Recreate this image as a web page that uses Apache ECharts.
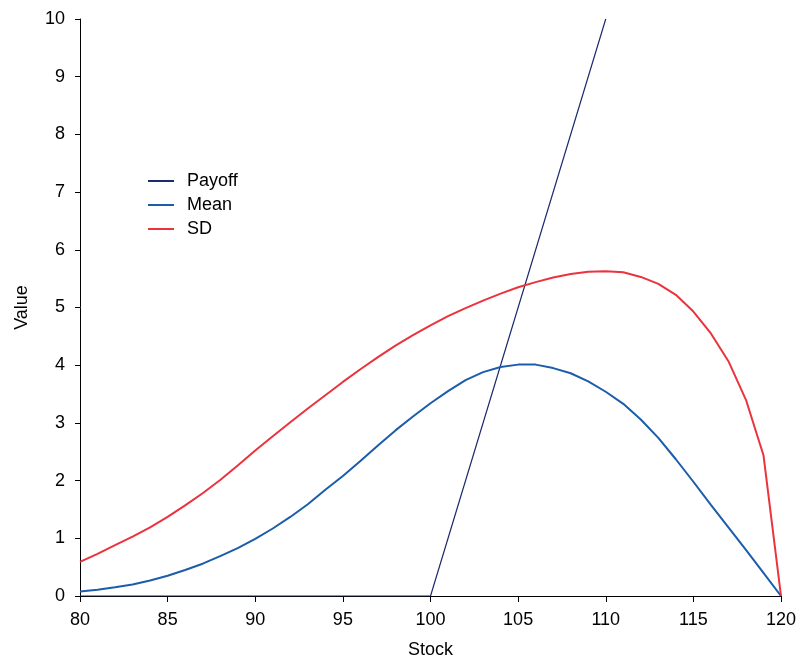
<!DOCTYPE html>
<html>
<head>
<meta charset="utf-8">
<script src="https://cdn.jsdelivr.net/npm/echarts@6/dist/echarts.min.js"></script>
<style>
  html, body { margin: 0; padding: 0; background: #fff; }
  #chart { width: 800px; height: 661px; }
</style>
</head>
<body>
<div id="chart"></div>
<script>
// 数据
var stock = [80, 81, 82, 83, 84, 85, 86, 87, 88, 89, 90, 91, 92, 93, 94, 95, 96, 97, 98, 99, 100,
             101, 102, 103, 104, 105, 106, 107, 108, 109, 110, 111, 112, 113, 114, 115, 116, 117, 118, 119, 120];
var meanValues = [0.08, 0.11, 0.15, 0.20, 0.27, 0.35, 0.45, 0.56, 0.69, 0.83, 0.99, 1.17, 1.37, 1.59, 1.84, 2.08, 2.34, 2.61, 2.87, 3.11, 3.34,
                  3.55, 3.74, 3.88, 3.97, 4.01, 4.01, 3.95, 3.86, 3.72, 3.54, 3.33, 3.06, 2.74, 2.37, 1.98, 1.58, 1.19, 0.80, 0.40, 0.00];
var sdValues = [0.59, 0.73, 0.88, 1.03, 1.19, 1.37, 1.57, 1.78, 2.01, 2.26, 2.52, 2.77, 3.01, 3.25, 3.48, 3.71, 3.93, 4.14, 4.34, 4.52, 4.69,
                4.85, 4.99, 5.12, 5.24, 5.35, 5.44, 5.52, 5.58, 5.62, 5.63, 5.61, 5.53, 5.41, 5.22, 4.93, 4.55, 4.07, 3.40, 2.44, 0.00];
var payoffStock = [80, 100, 110];
var payoffValues = [0, 0, 10];
var xTicks = [80, 85, 90, 95, 100, 105, 110, 115, 120];
var yTicks = [0, 1, 2, 3, 4, 5, 6, 7, 8, 9, 10];

function pairs(xs, ys){
    let out = [];
    for(let i = 0; i < xs.length; i++){
        out.push([xs[i], ys[i]]);
    }
    return out;
}

var font = "Liberation Sans, Arial, Helvetica, sans-serif";

var chart = echarts.init(document.getElementById("chart"));
var opts = {
    animation: false,
    backgroundColor: "#fff",
    grid: { left: 80, right: 19, top: 19, bottom: 65, containLabel: false, outerBoundsMode: "none" },
    legend: {
        orient: "vertical",
        left: 148,
        top: 172,
        padding: 0,
        itemWidth: 26,
        itemHeight: 2,
        itemGap: 6,
        icon: "rect",
        textStyle: { fontFamily: font, fontSize: 18, color: "#000", padding: [0, 0, 0, 8] },
        data: ["Payoff", "Mean", "SD"]
    },
    xAxis: {
        type: "value",
        min: xTicks[0],
        max: xTicks[xTicks.length - 1],
        interval: 5,
        name: "Stock",
        nameLocation: "middle",
        nameGap: 45,
        nameTextStyle: { fontFamily: font, fontSize: 18, color: "#000" },
        axisLine: { show: true, lineStyle: { color: "#000", width: 1 } },
        axisTick: { show: true, inside: false, length: 6, lineStyle: { color: "#000" } },
        axisLabel: { fontFamily: font, fontSize: 18, color: "#000", margin: 15 },
        splitLine: { show: false }
    },
    yAxis: {
        type: "value",
        min: yTicks[0],
        max: yTicks[yTicks.length - 1],
        interval: 1,
        name: "Value",
        nameLocation: "middle",
        nameGap: 49,
        nameRotate: 90,
        nameTextStyle: { fontFamily: font, fontSize: 18, color: "#000" },
        axisLine: { show: true, lineStyle: { color: "#000", width: 1 } },
        axisTick: { show: true, inside: false, length: 5, lineStyle: { color: "#000" } },
        axisLabel: { fontFamily: font, fontSize: 18, color: "#000", margin: 15 },
        splitLine: { show: false }
    },
    series: [
        {
            name: "Payoff",
            type: "line",
            data: pairs(payoffStock, payoffValues),
            showSymbol: false,
            symbol: "none",
            clip: true,
            color: "#1c2a6e",
            lineStyle: { color: "#1c2a6e", width: 1.2 }
        },
        {
            name: "Mean",
            type: "line",
            data: pairs(stock, meanValues),
            showSymbol: false,
            symbol: "none",
            color: "#1b5cab",
            lineStyle: { color: "#1b5cab", width: 2 }
        },
        {
            name: "SD",
            type: "line",
            data: pairs(stock, sdValues),
            showSymbol: false,
            symbol: "none",
            color: "#ea333d",
            lineStyle: { color: "#ea333d", width: 2 }
        }
    ]
};
chart.setOption(opts);
</script>
</body>
</html>
